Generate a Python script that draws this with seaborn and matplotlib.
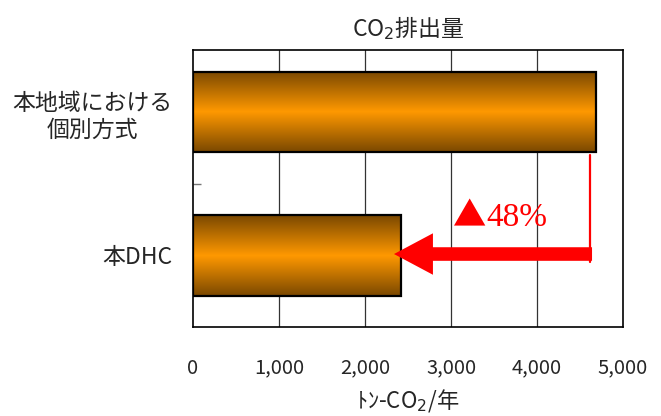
import numpy as np
import pandas as pd
import matplotlib
matplotlib.use('Agg')
import matplotlib.pyplot as plt
from matplotlib.colors import LinearSegmentedColormap
from matplotlib.patches import FancyArrow
import seaborn as sns

# chart data
categories = ['本地域における\n個別方式', '本DHC']
emissions = [4690, 2420]          # トン-CO2/年
x_ticks = [0, 1000, 2000, 3000, 4000, 5000]
x_tick_labels = ['0', '1,000', '2,000', '3,000', '4,000', '5,000']
reduction_mark = '▲'
reduction_label = '48%'

sns.set_theme(style='white')
plt.rcParams['font.family'] = ['Noto Sans CJK JP', 'DejaVu Sans']
plt.rcParams['mathtext.fontset'] = 'dejavusans'

df = pd.DataFrame({'category': categories, 'value': emissions})

fig = plt.figure(figsize=(6.61, 4.16), dpi=100)
ax = fig.add_axes([0.292, 0.214, 0.6505, 0.666])

sns.barplot(data=df, x='value', y='category', orient='h', width=0.56,
            color='#ff9900', ax=ax, zorder=2)

# orange gradient fill (dark edges, bright centre)
cmap = LinearSegmentedColormap.from_list('bar', ['#7a4800', '#ff9900', '#7a4800'])
grad = np.linspace(0, 1, 256).reshape(-1, 1)
for patch in ax.patches:
    x0, y0 = patch.get_x(), patch.get_y()
    w, h = patch.get_width(), patch.get_height()
    im = ax.imshow(grad, extent=[x0, x0 + w, y0 + h, y0], aspect='auto',
                   cmap=cmap, zorder=2, interpolation='bicubic')
    im.set_clip_path(patch)
    patch.set_facecolor('none')
    patch.set_edgecolor('black')
    patch.set_linewidth(1.6)
    patch.set_zorder(3)

ax.set_xlim(0, 5000)
ax.set_ylim(1.5, -0.437)

# grid and frame
for xv in x_ticks[1:-1]:
    ax.axvline(xv, color='#333333', lw=0.9, zorder=1)
for s in ax.spines.values():
    s.set_color('black')
    s.set_linewidth(1.2)

ax.set_xticks(x_ticks)
ax.set_xticklabels(x_tick_labels, fontsize=14.5)
ax.tick_params(axis='x', length=0, pad=22)
ax.set_yticks([0, 1])
ax.set_yticklabels(categories, fontsize=16.5, multialignment='center',
                   linespacing=1.2)
ax.tick_params(axis='y', length=0, pad=15)
ax.set_yticks([0.5], minor=True)
ax.tick_params(axis='y', which='minor', direction='in', length=6,
               width=1, color='#777777', left=True)

ax.set_xlabel('ﾄﾝ-CO$_2$/年', fontsize=16, labelpad=6)
ax.set_ylabel('')
ax.set_title('CO$_2$排出量', fontsize=16.5, pad=10)

# reduction arrow from the individual-system bar to the DHC bar
start = emissions[0] - 50
ax.plot([start - 24, start - 24], [0.297, 1.045], color='red', lw=1.6, zorder=4)
arrow = FancyArrow(start, 0.99, emissions[1] - 83 - start, 0,
                   width=0.095, head_width=0.29, head_length=453,
                   length_includes_head=True, color='red', lw=0, zorder=4)
ax.add_patch(arrow)
ax.text(3410, 0.794, reduction_mark, color='red', fontsize=24,
        family='Noto Sans CJK JP', ha='right', va='baseline', zorder=5)
ax.text(3410, 0.794, reduction_label, color='red', fontsize=24,
        family='Liberation Serif', ha='left', va='baseline', zorder=5)

fig.savefig('out.png', dpi=100)
